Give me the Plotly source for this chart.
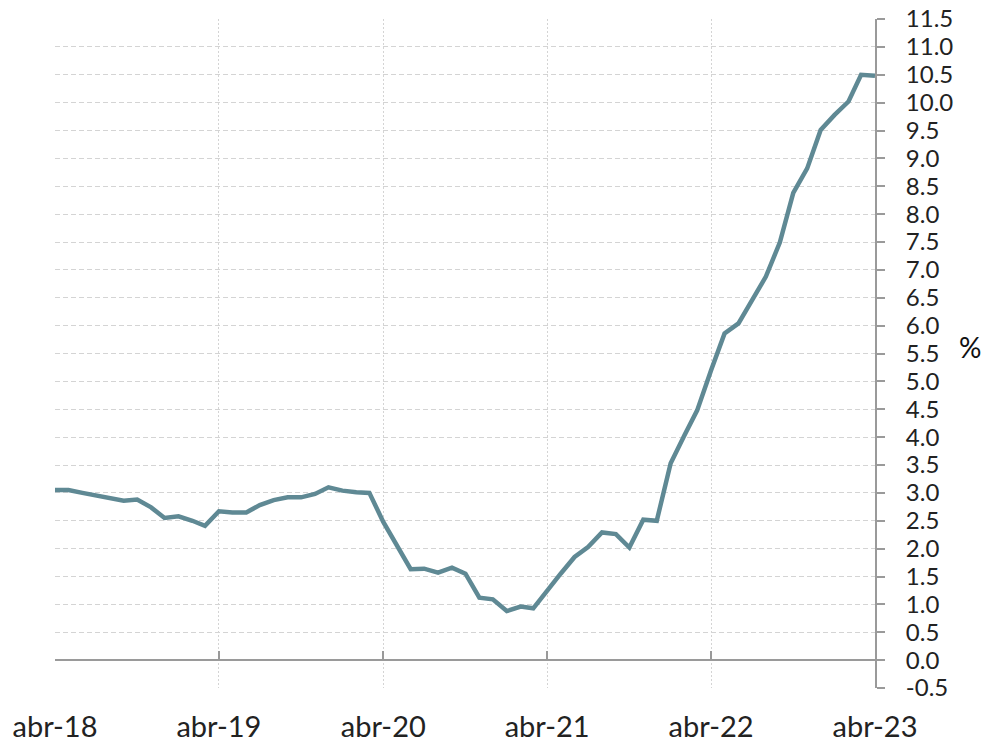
import pandas as pd
import plotly.graph_objects as go

# Monthly dates Apr-2018 .. Apr-2023
months = pd.date_range("2018-04-01", "2023-04-01", freq="MS")

values = [
    3.05, 3.05, 3.00, 2.96, 2.92, 2.86, 2.88, 2.74, 2.55, 2.58, 2.50, 2.41,   # abr-18 .. mar-19
    2.67, 2.65, 2.65, 2.78, 2.87, 2.92, 2.92, 2.98, 3.10, 3.04, 3.01, 3.00,   # abr-19 .. mar-20
    2.48, 2.06, 1.63, 1.64, 1.57, 1.66, 1.55, 1.12, 1.09, 0.88, 0.96, 0.93,   # abr-20 .. mar-21
    1.26, 1.55, 1.85, 2.03, 2.29, 2.26, 2.02, 2.52, 2.50, 3.53, 4.04, 4.48,   # abr-21 .. mar-22
    5.20, 5.86, 6.04, 6.47, 6.88, 7.49, 8.38, 8.82, 9.51, 9.78, 10.02, 10.50, # abr-22 .. mar-23
    10.48,                                                                     # abr-23
]

tick_dates = ["2018-04-01", "2019-04-01", "2020-04-01", "2021-04-01", "2022-04-01", "2023-04-01"]
tick_labels = ["abr-18", "abr-19", "abr-20", "abr-21", "abr-22", "abr-23"]

y_ticks = [round(-0.5 + 0.5 * k, 1) for k in range(25)]

FONT = "Lato"
LINE_COLOR = "#5f8994"
GRID = "#d4d4d4"
AXIS = "#9a9a9a"

fig = go.Figure()
fig.add_trace(go.Scatter(
    x=months, y=values, mode="lines",
    line=dict(color=LINE_COLOR, width=4.5),
    showlegend=False, hoverinfo="skip",
))
# invisible trace to activate the second x axis (axis line at y = 0)
fig.add_trace(go.Scatter(
    x=[months[0], months[-1]], y=[0, 0], xaxis="x2", mode="lines",
    line=dict(width=0), showlegend=False, hoverinfo="skip",
))

fig.update_layout(
    width=990, height=742,
    margin=dict(l=55, r=115, t=19, b=54),
    paper_bgcolor="white", plot_bgcolor="white",
    font=dict(family=FONT, color="#222222"),
    xaxis=dict(
        range=[months[0], months[-1]], automargin=False,
        tickmode="array", tickvals=tick_dates, ticktext=tick_labels,
        showgrid=True, gridcolor=GRID, griddash="2px,2px", gridwidth=1.2,
        showline=False, ticks="", zeroline=False,
        tickfont=dict(size=29, color="#222222", family=FONT),
        ticklabelstandoff=19,
    ),
    xaxis2=dict(
        range=[months[0], months[-1]], automargin=False,
        overlaying="x", anchor="free", position=28 / 669,
        tickmode="array", tickvals=tick_dates, ticktext=[""] * len(tick_dates),
        showgrid=False, showline=True, linecolor=AXIS, linewidth=2,
        ticks="inside", ticklen=8, tickcolor=AXIS, tickwidth=2,
        showticklabels=False, zeroline=False,
    ),
    yaxis=dict(
        side="right", range=[-0.5, 11.5], automargin=False,
        tickmode="array", tickvals=y_ticks,
        ticktext=[f"{v:.1f}" for v in y_ticks],
        showgrid=True, gridcolor=GRID, griddash="5px,3px", gridwidth=1.2,
        showline=True, linecolor=AXIS, linewidth=2,
        ticks="outside", ticklen=8, tickcolor=AXIS, tickwidth=2,
        zeroline=False,
        tickfont=dict(size=24, color="#222222", family=FONT),
        ticklabelstandoff=16,
    ),
    annotations=[dict(
        text="%", xref="paper", yref="paper", x=(970 - 55) / 820, y=(688 - 347) / 669,
        showarrow=False, font=dict(size=28, color="#111111", family=FONT),
        xanchor="center", yanchor="middle",
    )],
)

fig.write_html(
    "out.html",
    config={"displayModeBar": False},
    post_script="document.body.style.margin='0';document.body.style.overflow='hidden';",
)
